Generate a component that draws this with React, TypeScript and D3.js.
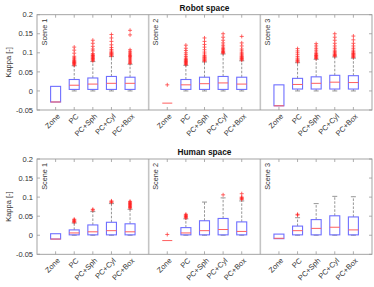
import React from "react";
import * as d3 from "d3";

const categories = ["Zone", "PC", "PC+Sph", "PC+Cyl", "PC+Box"];
const scenes = ["Scene 1", "Scene 2", "Scene 3"];
const panelTitles = ["Robot space", "Human space"];
const yTicks = [-0.05, 0, 0.05, 0.1, 0.15, 0.2];
const yTickLabels = ["-0.05", "0", "0.05", "0.1", "0.15", "0.2"];
const yLabel = "Kappa [-]";

// Robot space: [scene][category]
const robotLow = [
  [-0.029, 0, 0, 0, 0],
  [-0.032, 0, 0, 0, 0],
  [-0.039, 0, 0, 0, 0],
];
const robotQ1 = [
  [-0.029, 0.004, 0.004, 0.004, 0.004],
  [-0.032, 0.004, 0.004, 0.004, 0.004],
  [-0.039, 0.005, 0.005, 0.005, 0.005],
];
const robotMed = [
  [-0.029, 0.015, 0.018, 0.02, 0.02],
  [-0.032, 0.016, 0.019, 0.021, 0.018],
  [-0.039, 0.017, 0.02, 0.023, 0.022],
];
const robotQ3 = [
  [0.012, 0.03, 0.034, 0.038, 0.036],
  [-0.032, 0.03, 0.036, 0.038, 0.036],
  [0.016, 0.033, 0.037, 0.041, 0.04],
];
const robotHigh = [
  [0.012, 0.066, 0.077, 0.09, 0.07],
  [-0.032, 0.067, 0.076, 0.097, 0.079],
  [0.016, 0.074, 0.083, 0.089, 0.086],
];
const robotOutliers = [
  [
    [],
    [0.068, 0.07, 0.072, 0.074, 0.075, 0.077, 0.079, 0.081, 0.084, 0.087, 0.091, 0.099, 0.107, 0.115],
    [0.079, 0.081, 0.083, 0.085, 0.087, 0.089, 0.091, 0.093, 0.095, 0.098, 0.105, 0.11, 0.117, 0.125, 0.133],
    [0.092, 0.094, 0.096, 0.098, 0.1, 0.102, 0.105, 0.109, 0.114, 0.121, 0.13, 0.139, 0.148],
    [0.072, 0.075, 0.078, 0.081, 0.084, 0.087, 0.09, 0.092, 0.094, 0.097, 0.1, 0.104, 0.108, 0.147, 0.159],
  ],
  [
    [0.016],
    [0.069, 0.071, 0.073, 0.075, 0.077, 0.079, 0.081, 0.083, 0.086, 0.09, 0.095, 0.1, 0.106, 0.112, 0.12],
    [0.078, 0.08, 0.082, 0.084, 0.086, 0.088, 0.09, 0.093, 0.097, 0.102, 0.108, 0.115, 0.122, 0.13, 0.139],
    [0.099, 0.101, 0.103, 0.105, 0.108, 0.111, 0.115, 0.12, 0.126, 0.133, 0.141, 0.15],
    [0.081, 0.083, 0.085, 0.087, 0.089, 0.091, 0.094, 0.097, 0.1, 0.105, 0.11, 0.118, 0.126, 0.143],
  ],
  [
    [],
    [0.076, 0.078, 0.08, 0.083, 0.086, 0.09, 0.095, 0.1, 0.105, 0.111],
    [0.085, 0.087, 0.089, 0.091, 0.093, 0.095, 0.098, 0.102, 0.107, 0.112, 0.118, 0.124],
    [0.091, 0.093, 0.095, 0.097, 0.1, 0.103, 0.107, 0.112, 0.118, 0.125, 0.133, 0.141, 0.15],
    [0.088, 0.09, 0.092, 0.094, 0.096, 0.098, 0.1, 0.103, 0.107, 0.112, 0.118, 0.125, 0.134, 0.144],
  ],
];

// Human space: [scene][category]
const humanLow = [
  [-0.01, 0, 0, 0, 0],
  [-0.014, 0, 0, 0, 0],
  [-0.009, 0, 0, 0, 0],
];
const humanQ1 = [
  [-0.01, 0.001, 0.001, 0.001, 0.001],
  [-0.014, 0.001, 0.001, 0.001, 0.001],
  [-0.009, 0.001, 0.001, 0.001, 0.001],
];
const humanMed = [
  [-0.01, 0.006, 0.009, 0.012, 0.009],
  [-0.014, 0.006, 0.012, 0.015, 0.01],
  [-0.008, 0.012, 0.018, 0.021, 0.014],
];
const humanQ3 = [
  [0.004, 0.014, 0.027, 0.034, 0.03],
  [-0.014, 0.02, 0.038, 0.044, 0.035],
  [0.003, 0.024, 0.041, 0.051, 0.048],
];
const humanHigh = [
  [0.004, 0.032, 0.062, 0.083, 0.068],
  [-0.014, 0.043, 0.087, 0.098, 0.09],
  [0.003, 0.046, 0.083, 0.102, 0.101],
];
const humanOutliers = [
  [
    [],
    [0.034, 0.036, 0.038, 0.04, 0.042],
    [0.066, 0.068],
    [0.086, 0.088, 0.09],
    [0.071, 0.073, 0.075, 0.077, 0.079, 0.081, 0.083, 0.085, 0.087, 0.089],
  ],
  [
    [0.002],
    [0.045, 0.047, 0.049, 0.051, 0.053, 0.055],
    [],
    [0.106],
    [0.094, 0.096, 0.098, 0.1, 0.109],
  ],
  [[], [0.053, 0.055], [], [], []],
];

const FONT = "'Liberation Sans', Arial, Helvetica, sans-serif";
const AXIS = "#9a9a9a";
const TEXT = "#333";
const BOXC = "#6f6fff";
const MEDC = "#ff5f5f";
const OUTC = "#ff2020";
const WHISK = "#8a8a8a";

type PanelProps = {
  title: string;
  top: number;
  bottom: number;
  low: number[][];
  q1: number[][];
  med: number[][];
  q3: number[][];
  high: number[][];
  outliers: number[][][];
};

const LEFT = 37;
const RIGHT = 372;

function Panel({ title, top, bottom, low, q1, med, q3, high, outliers }: PanelProps) {
  const y = d3.scaleLinear().domain([-0.05, 0.2]).range([bottom, top]);
  const sceneScale = d3.scaleBand<string>().domain(scenes).range([LEFT, RIGHT]).paddingInner(0).paddingOuter(0);
  const boxW = 10;
  const capW = 5;
  const tickLen = 3;
  const cx = (LEFT + RIGHT) / 2;
  return (
    <g>
      <text x={cx} y={top - 4} textAnchor="middle" fontFamily={FONT} fontWeight="bold" fontSize={8.3} fill="#111">
        {title}
      </text>
      <text
        transform={`translate(${11}, ${(top + bottom) / 2}) rotate(-90)`}
        textAnchor="middle"
        fontFamily={FONT}
        fontSize={7.5}
        fill={TEXT}
      >
        {yLabel}
      </text>
      {yTicks.map((t, i) => (
        <g key={"yt" + i}>
          <line x1={LEFT} x2={LEFT + tickLen} y1={y(t)} y2={y(t)} stroke={AXIS} strokeWidth={0.8} />
          <line x1={RIGHT - tickLen} x2={RIGHT} y1={y(t)} y2={y(t)} stroke={AXIS} strokeWidth={0.8} />
          <text x={LEFT - 4} y={y(t)} dy="0.35em" textAnchor="end" fontFamily={FONT} fontSize={7.5} fill={TEXT}>
            {yTickLabels[i]}
          </text>
        </g>
      ))}
      {scenes.map((s, si) => {
        const x0 = sceneScale(s)!;
        const x1 = x0 + sceneScale.bandwidth();
        const x = d3.scalePoint<string>().domain(categories).range([x0, x1]).padding(1);
        return (
          <g key={"s" + si}>
            {si > 0 && <line x1={x0} x2={x0} y1={top} y2={bottom} stroke="#c4c4c4" strokeWidth={1.6} />}
            <text
              transform={`translate(${x0 + 9.5}, ${top + 4}) rotate(-90)`}
              textAnchor="end"
              fontFamily={FONT}
              fontSize={7.3}
              fill={TEXT}
            >
              {s}
            </text>
            {categories.map((c, ci) => {
              const px = x(c)!;
              const lo = low[si][ci];
              const a = q1[si][ci];
              const m = med[si][ci];
              const b = q3[si][ci];
              const hi = high[si][ci];
              return (
                <g key={"c" + ci}>
                  <line x1={px} x2={px} y1={bottom} y2={bottom - tickLen} stroke={AXIS} strokeWidth={0.8} />
                  <line x1={px} x2={px} y1={top} y2={top + tickLen} stroke={AXIS} strokeWidth={0.8} />
                  <text
                    transform={`translate(${px + 3}, ${bottom + 5}) rotate(-45)`}
                    textAnchor="end"
                    dy="0.35em"
                    fontFamily={FONT}
                    fontSize={7.5}
                    fill={TEXT}
                  >
                    {c}
                  </text>
                  {hi > b && (
                    <>
                      <line x1={px} x2={px} y1={y(b)} y2={y(hi)} stroke={WHISK} strokeWidth={0.9} strokeDasharray="2.5,1.5" />
                      <line x1={px - capW / 2} x2={px + capW / 2} y1={y(hi)} y2={y(hi)} stroke={WHISK} strokeWidth={0.9} />
                    </>
                  )}
                  {lo < a && (
                    <>
                      <line x1={px} x2={px} y1={y(a)} y2={y(lo)} stroke={WHISK} strokeWidth={0.9} strokeDasharray="2.5,1.5" />
                      <line x1={px - capW / 2} x2={px + capW / 2} y1={y(lo)} y2={y(lo)} stroke={WHISK} strokeWidth={0.9} />
                    </>
                  )}
                  <rect
                    x={px - boxW / 2}
                    width={boxW}
                    y={y(b)}
                    height={Math.max(0, y(a) - y(b))}
                    fill="none"
                    stroke={BOXC}
                    strokeWidth={1.1}
                  />
                  <line x1={px - boxW / 2} x2={px + boxW / 2} y1={y(m)} y2={y(m)} stroke={MEDC} strokeWidth={1} />
                  {outliers[si][ci].map((v, k) => (
                    <path
                      key={k}
                      d={`M${px - 2},${y(v)}H${px + 2}M${px},${y(v) - 2}V${y(v) + 2}`}
                      stroke={OUTC}
                      strokeWidth={0.8}
                      opacity={0.85}
                    />
                  ))}
                </g>
              );
            })}
          </g>
        );
      })}
      <rect x={LEFT} y={top} width={RIGHT - LEFT} height={bottom - top} fill="none" stroke={AXIS} strokeWidth={0.9} />
    </g>
  );
}

export default function App() {
  return (
    <svg width={374} height={287} style={{ position: "absolute", left: 0, top: 0, background: "#fff" }}>
      <rect width={374} height={287} fill="#fff" />
      <Panel
        title={panelTitles[0]}
        top={14.7}
        bottom={110}
        low={robotLow}
        q1={robotQ1}
        med={robotMed}
        q3={robotQ3}
        high={robotHigh}
        outliers={robotOutliers}
      />
      <Panel
        title={panelTitles[1]}
        top={159}
        bottom={254.3}
        low={humanLow}
        q1={humanQ1}
        med={humanMed}
        q3={humanQ3}
        high={humanHigh}
        outliers={humanOutliers}
      />
    </svg>
  );
}
